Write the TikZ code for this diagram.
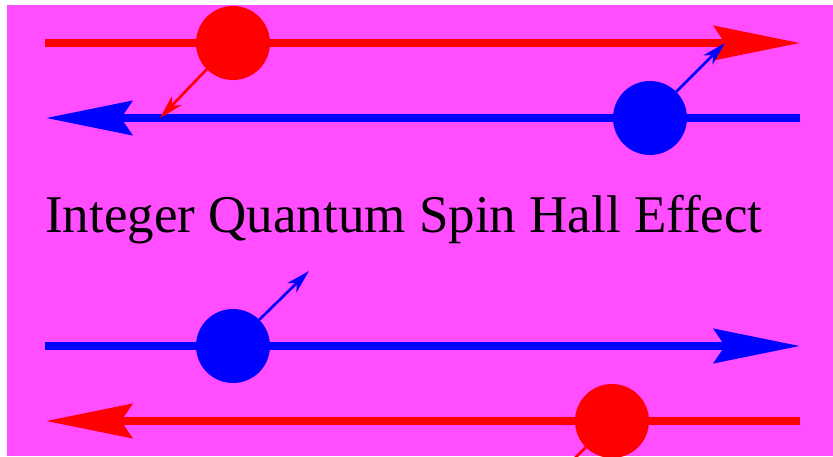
\documentclass[tikz,border=0pt]{standalone}
\usepackage{fontspec}
\setmainfont{Liberation Serif}
\usetikzlibrary{arrows.meta,positioning,calc}
\definecolor{bgmagenta}{RGB}{255,77,255}

\begin{document}
\begin{tikzpicture}[
    x=1pt, y=-1pt,
    edge/.style={line width=8pt},
    bighead/.style={-{Stealth[length=86pt, width=34pt, inset=11pt]}},
    spin/.style={line width=2.6pt, -{Stealth[length=24pt, width=13pt, inset=7pt]}},
    electron/.style={circle, minimum size=74pt, inner sep=0pt}
]
\useasboundingbox (0,0) rectangle (833,456);
\clip (7,5) rectangle (833,456);
\fill[bgmagenta] (7,5) rectangle (833,456);

% Top pair of edge states
\coordinate (topL) at (45,43);
\coordinate (topR) at (800,43);
\coordinate (midL) at (46,118);
\coordinate (midR) at (800,118);
\draw[edge, red, bighead] (topL) -- (topR);
\draw[edge, blue, bighead] (midR) -- (midL);

\node[electron, fill=red] (eUp) at (233,43) {};
\node[electron, fill=blue] (eDown) at (650,118) {};

\coordinate (spinUpTip) at (160,118);
\coordinate (spinDownTip) at (725,43);
\draw[spin, red] (eUp.south west) -- (spinUpTip);
\draw[spin, blue] (eDown.north east) -- (spinDownTip);

% Title
\node[anchor=base west, inner sep=0pt, font=\fontsize{53}{60}\selectfont] (title) at (45,232) {Integer Quantum Spin Hall Effect};

% Bottom pair of edge states
\coordinate (lowL) at (45,346);
\coordinate (lowR) at (800,346);
\coordinate (botL) at (46,421);
\coordinate (botR) at (800,421);
\draw[edge, blue, bighead] (lowL) -- (lowR);
\draw[edge, red, bighead] (botR) -- (botL);

\node[electron, fill=blue] (eLow) at (233,346) {};
\node[electron, fill=red] (eBot) at (612,421) {};

\coordinate (spinLowTip) at (309,271);
\coordinate (spinBotTip) at (537,496);
\draw[spin, blue] (eLow.north east) -- (spinLowTip);
\draw[spin, red] (eBot.south west) -- (spinBotTip);

\end{tikzpicture}
\end{document}
